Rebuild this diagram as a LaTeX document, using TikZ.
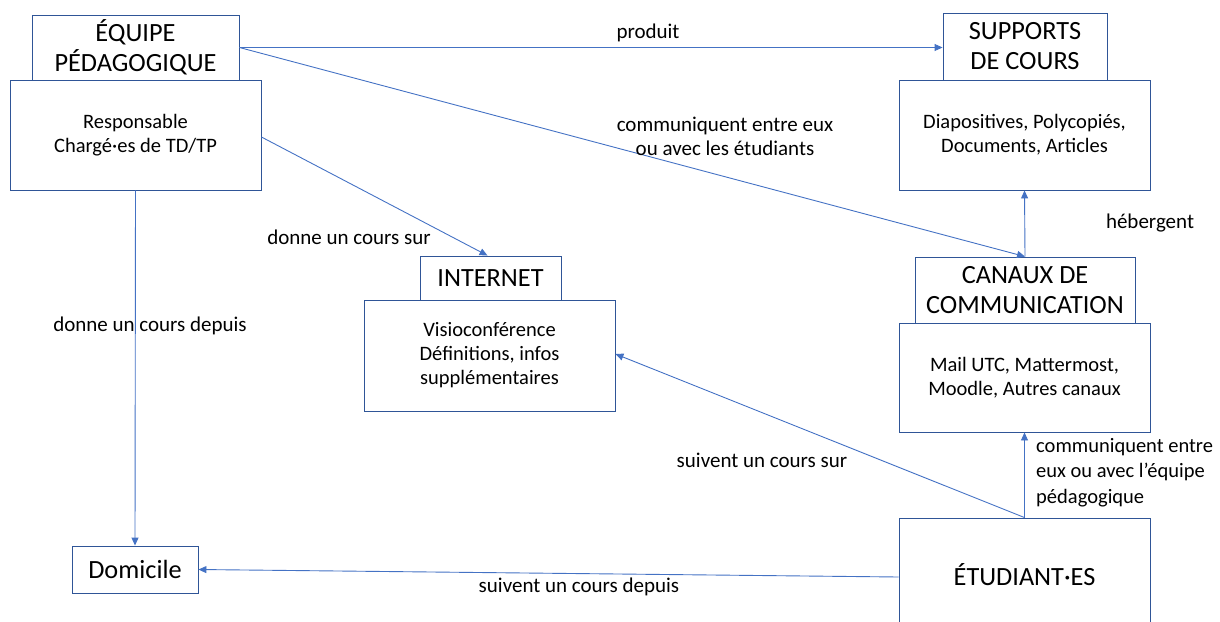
\documentclass[tikz,border=0pt]{standalone}
\usepackage{fontspec}
\setmainfont{Carlito}
\usetikzlibrary{arrows.meta}
\definecolor{lineblue}{HTML}{4472C4}
\definecolor{boxblue}{HTML}{2F5597}
\tikzset{
  box/.style={draw=boxblue, line width=0.9pt, fill=white, rectangle, inner sep=0pt, align=center, text=black},
  titlebox/.style={box, font=\fontsize{26.3}{30}\selectfont},
  bodybox/.style={box, font=\fontsize{20.5}{24}\selectfont},
  conn/.style={draw=lineblue, line width=0.9pt, -{Triangle[length=8pt,width=7pt]}},
  lab/.style={font=\fontsize{21}{24}\selectfont, text=black, align=center, inner sep=0pt},
}
\begin{document}
\begin{tikzpicture}[x=1pt,y=-1pt]
\useasboundingbox (0,0) rectangle (1220,621);
% boxes
\node[bodybox, minimum width=251pt, minimum height=110pt] (eqc) at (135.5,135) {Responsable\\Chargé·es de TD/TP};
\node[titlebox, minimum width=207pt, minimum height=65pt] (eqt) at (135.5,47.5) {ÉQUIPE\\PÉDAGOGIQUE};
\node[bodybox, minimum width=251pt, minimum height=110pt] (supc) at (1024.5,135) {Diapositives, Polycopiés,\\Documents, Articles};
\node[titlebox, minimum width=164pt, minimum height=67pt] (supt) at (1025,46.5) {SUPPORTS\\DE COURS};
\node[bodybox, minimum width=251pt, minimum height=111pt] (intc) at (489.5,355.5) {Visioconférence\\Définitions, infos\\supplémentaires};
\node[titlebox, minimum width=141pt, minimum height=44pt] (intt) at (490.5,278) {INTERNET};
\node[bodybox, minimum width=251pt, minimum height=109pt] (canc) at (1024.5,377.5) {Mail UTC, Mattermost,\\Moodle, Autres canaux};
\node[titlebox, minimum width=220pt, minimum height=66pt] (cant) at (1025,290) {CANAUX DE\\COMMUNICATION};
\node[titlebox, minimum width=251pt, minimum height=114pt] (etu) at (1024.5,575) {ÉTUDIANT·ES};
\node[titlebox, minimum width=126pt, minimum height=47pt] (dom) at (135,569.5) {Domicile};
% connectors
\draw[conn] (eqt.east) -- (eqt.east -| supt.west);
\draw[conn] (eqt.east) -- (cant.north);
\draw[conn] (cant.north) -- (supc.south);
\draw[conn] ([yshift=-2pt]eqc.east) -- ([xshift=-3pt]intt.north);
\draw[conn] (eqc.south) -- (dom.north);
\draw[conn] (etu.north) -- ([yshift=1.5pt]intc.east);
\draw[conn] (etu.north) -- (canc.south);
\draw[conn] ([yshift=-2pt]etu.west) -- (dom.east);
% labels
\node[lab] (l1) at (648,33) {produit};
\node[lab] (l2) at (725,136) {communiquent entre eux\\ou avec les étudiants};
\node[lab] (l3) at (1150,223) {hébergent};
\node[lab] (l4) at (349,237) {donne un cours sur};
\node[lab] (l5) at (150,326) {donne un cours depuis};
\node[lab] (l6) at (762,460) {suivent un cours sur};
\node[lab, align=left, anchor=north west, font=\fontsize{20.5}{25.5}\selectfont] (l7) at (1036,438) {communiquent entre\\eux ou avec l’équipe\\pédagogique};
\node[lab] (l8) at (579,587) {suivent un cours depuis};
\end{tikzpicture}
\end{document}
